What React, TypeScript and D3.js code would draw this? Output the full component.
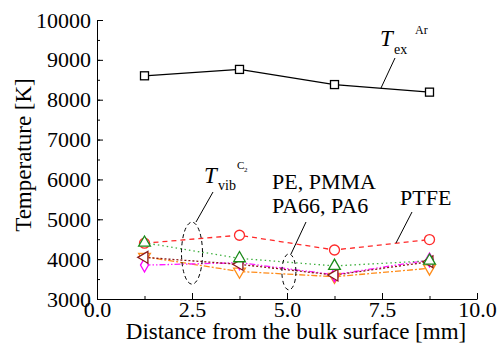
import { useEffect, useRef } from "react";
import * as d3 from "d3";

const distances = [1.25, 3.75, 6.25, 8.75];
const texAr = [8600, 8760, 8380, 8190];
const ptfe = [4400, 4600, 4230, 4490];
const peGreen = [4410, 4020, 3830, 3960];
const pmmaBrown = [4045, 3870, 3600, 3935];
const pa66Magenta = [3850, 3910, 3610, 3980];
const pa6Orange = [4060, 3690, 3560, 3770];

const xTicks = [0, 2.5, 5, 7.5, 10];
const yTicks = [3000, 4000, 5000, 6000, 7000, 8000, 9000, 10000];

const FONT = "'Liberation Serif', 'Times New Roman', serif";

export default function App() {
  const svgRef = useRef<SVGSVGElement>(null);

  useEffect(() => {
    if (!svgRef.current) return;
    const svg = d3.select(svgRef.current);
    svg.selectAll("*").remove();

    const x = d3.scaleLinear().domain([0, 10]).range([97, 477]);
    const y = d3.scaleLinear().domain([3000, 10000]).range([299, 20]);

    // minor ticks
    const minorX = d3.range(0, 10.01, 1.25);
    const minorY = d3.range(3000, 10001, 500);

    svg.append("g")
      .attr("transform", "translate(0,299)")
      .call(d3.axisBottom(x).tickValues(minorX).tickSizeInner(-3).tickSizeOuter(0).tickFormat(() => ""))
      .call((g) => g.select(".domain").remove());
    svg.append("g")
      .attr("transform", "translate(97,0)")
      .call(d3.axisLeft(y).tickValues(minorY).tickSizeInner(-3).tickSizeOuter(0).tickFormat(() => ""))
      .call((g) => g.select(".domain").remove());

    svg.append("g")
      .attr("transform", "translate(0,299)")
      .call(d3.axisBottom(x).tickValues(xTicks).tickSizeInner(-6).tickSizeOuter(0).tickPadding(2).tickFormat(d3.format(".1f")))
      .call((g) => g.selectAll(".tick text").style("font-family", FONT).style("font-size", "22px").attr("fill", "#000"));

    svg.append("g")
      .attr("transform", "translate(97,0)")
      .call(d3.axisLeft(y).tickValues(yTicks).tickSizeInner(-6).tickSizeOuter(0).tickPadding(6).tickFormat(d3.format("d")))
      .call((g) => g.selectAll(".tick text").style("font-family", FONT).style("font-size", "22px").attr("fill", "#000"));

    svg.selectAll(".domain, .tick line").attr("stroke", "#000").attr("stroke-width", 1);

    // axis titles
    svg.append("text")
      .attr("x", 296).attr("y", 339)
      .attr("text-anchor", "middle")
      .style("font-family", FONT).style("font-size", "23px")
      .text("Distance from the bulk surface [mm]");
    svg.append("text")
      .attr("transform", "translate(31,155) rotate(-90)")
      .attr("text-anchor", "middle")
      .style("font-family", FONT).style("font-size", "23px")
      .text("Temperature [K]");

    const line = d3.line<number>()
      .x((_, i) => x(distances[i]))
      .y((d) => y(d));

    const series = [
      { vals: texAr, color: "#000", dash: null, mark: "square", mstroke: "#000" },
      { vals: ptfe, color: "#ff2a2a", dash: "5,4", mark: "circle", mstroke: "#ff2a2a" },
      { vals: pa6Orange, color: "#ff8c1a", dash: "6,2,2,2", mark: "down", mstroke: "#ff8c1a" },
      { vals: pa66Magenta, color: "#ff1aff", dash: "6,2,1.5,2,1.5,2", mark: "diamond", mstroke: "#ff00ff" },
      { vals: pmmaBrown, color: "#8b1a1a", dash: "2,2", mark: "left", mstroke: "#8b1a1a" },
      { vals: peGreen, color: "#40b040", dash: "1.5,3", mark: "up", mstroke: "#1a8a1a" },
    ];

    series.forEach((s) => {
      svg.append("path")
        .datum(s.vals)
        .attr("fill", "none")
        .attr("stroke", s.color)
        .attr("stroke-width", 1.3)
        .attr("stroke-dasharray", s.dash)
        .attr("d", line);
    });

    series.forEach((s) => {
      const g = svg.append("g");
      s.vals.forEach((v, i) => {
        const cx = x(distances[i]);
        const cy = y(v);
        let el;
        if (s.mark === "circle") {
          el = g.append("circle").attr("cx", cx).attr("cy", cy).attr("r", 5);
        } else if (s.mark === "square") {
          el = g.append("rect").attr("x", cx - 4).attr("y", cy - 4).attr("width", 8).attr("height", 8);
        } else {
          const type = s.mark === "diamond" ? d3.symbolDiamond : d3.symbolTriangle;
          const size = s.mark === "diamond" ? 55 : 60;
          const rot = s.mark === "down" ? 180 : s.mark === "left" ? -90 : 0;
          el = g.append("path")
            .attr("d", d3.symbol().type(type).size(size)())
            .attr("transform", `translate(${cx},${cy}) rotate(${rot})`);
        }
        el.attr("fill", "#fff").attr("stroke", s.mstroke).attr("stroke-width", 1.3);
      });
    });

    // ellipses
    const ell = [
      { cx: 2.5, cy: 4150, rx: 10.5, ry: 31 },
      { cx: 5.05, cy: 3680, rx: 7, ry: 18 },
    ];
    ell.forEach((e) => {
      svg.append("ellipse")
        .attr("cx", x(e.cx)).attr("cy", y(e.cy))
        .attr("rx", e.rx).attr("ry", e.ry)
        .attr("fill", "none").attr("stroke", "#000")
        .attr("stroke-width", 1).attr("stroke-dasharray", "4,3");
    });

    // leader lines
    const leaders = [
      [[395, 58], [381, 88]],
      [[213, 192], [196, 222]],
      [[306, 222], [291, 254]],
      [[412, 212], [396, 243]],
    ];
    leaders.forEach(([a, b]) => {
      svg.append("line")
        .attr("x1", a[0]).attr("y1", a[1]).attr("x2", b[0]).attr("y2", b[1])
        .attr("stroke", "#000").attr("stroke-width", 1);
    });

    const txt = (tx: number, ty: number, s: string, size: number, italic = false) =>
      svg.append("text")
        .attr("x", tx).attr("y", ty)
        .style("font-family", FONT).style("font-size", `${size}px`)
        .style("font-style", italic ? "italic" : "normal")
        .text(s);

    txt(380, 46, "T", 23, true);
    txt(394, 54, "ex", 14);
    txt(415, 34, "Ar", 12);

    txt(204, 183, "T", 23, true);
    txt(218, 190, "vib", 14);
    txt(237, 169, "C", 11);
    txt(244, 172, "2", 7);

    txt(272, 189, "PE, PMMA", 22);
    txt(272, 213, "PA66, PA6", 22);
    txt(400, 205, "PTFE", 22);
  }, []);

  return (
    <svg
      ref={svgRef}
      width={503}
      height={347}
      style={{ position: "absolute", left: 0, top: 0, background: "#fff" }}
    />
  );
}
